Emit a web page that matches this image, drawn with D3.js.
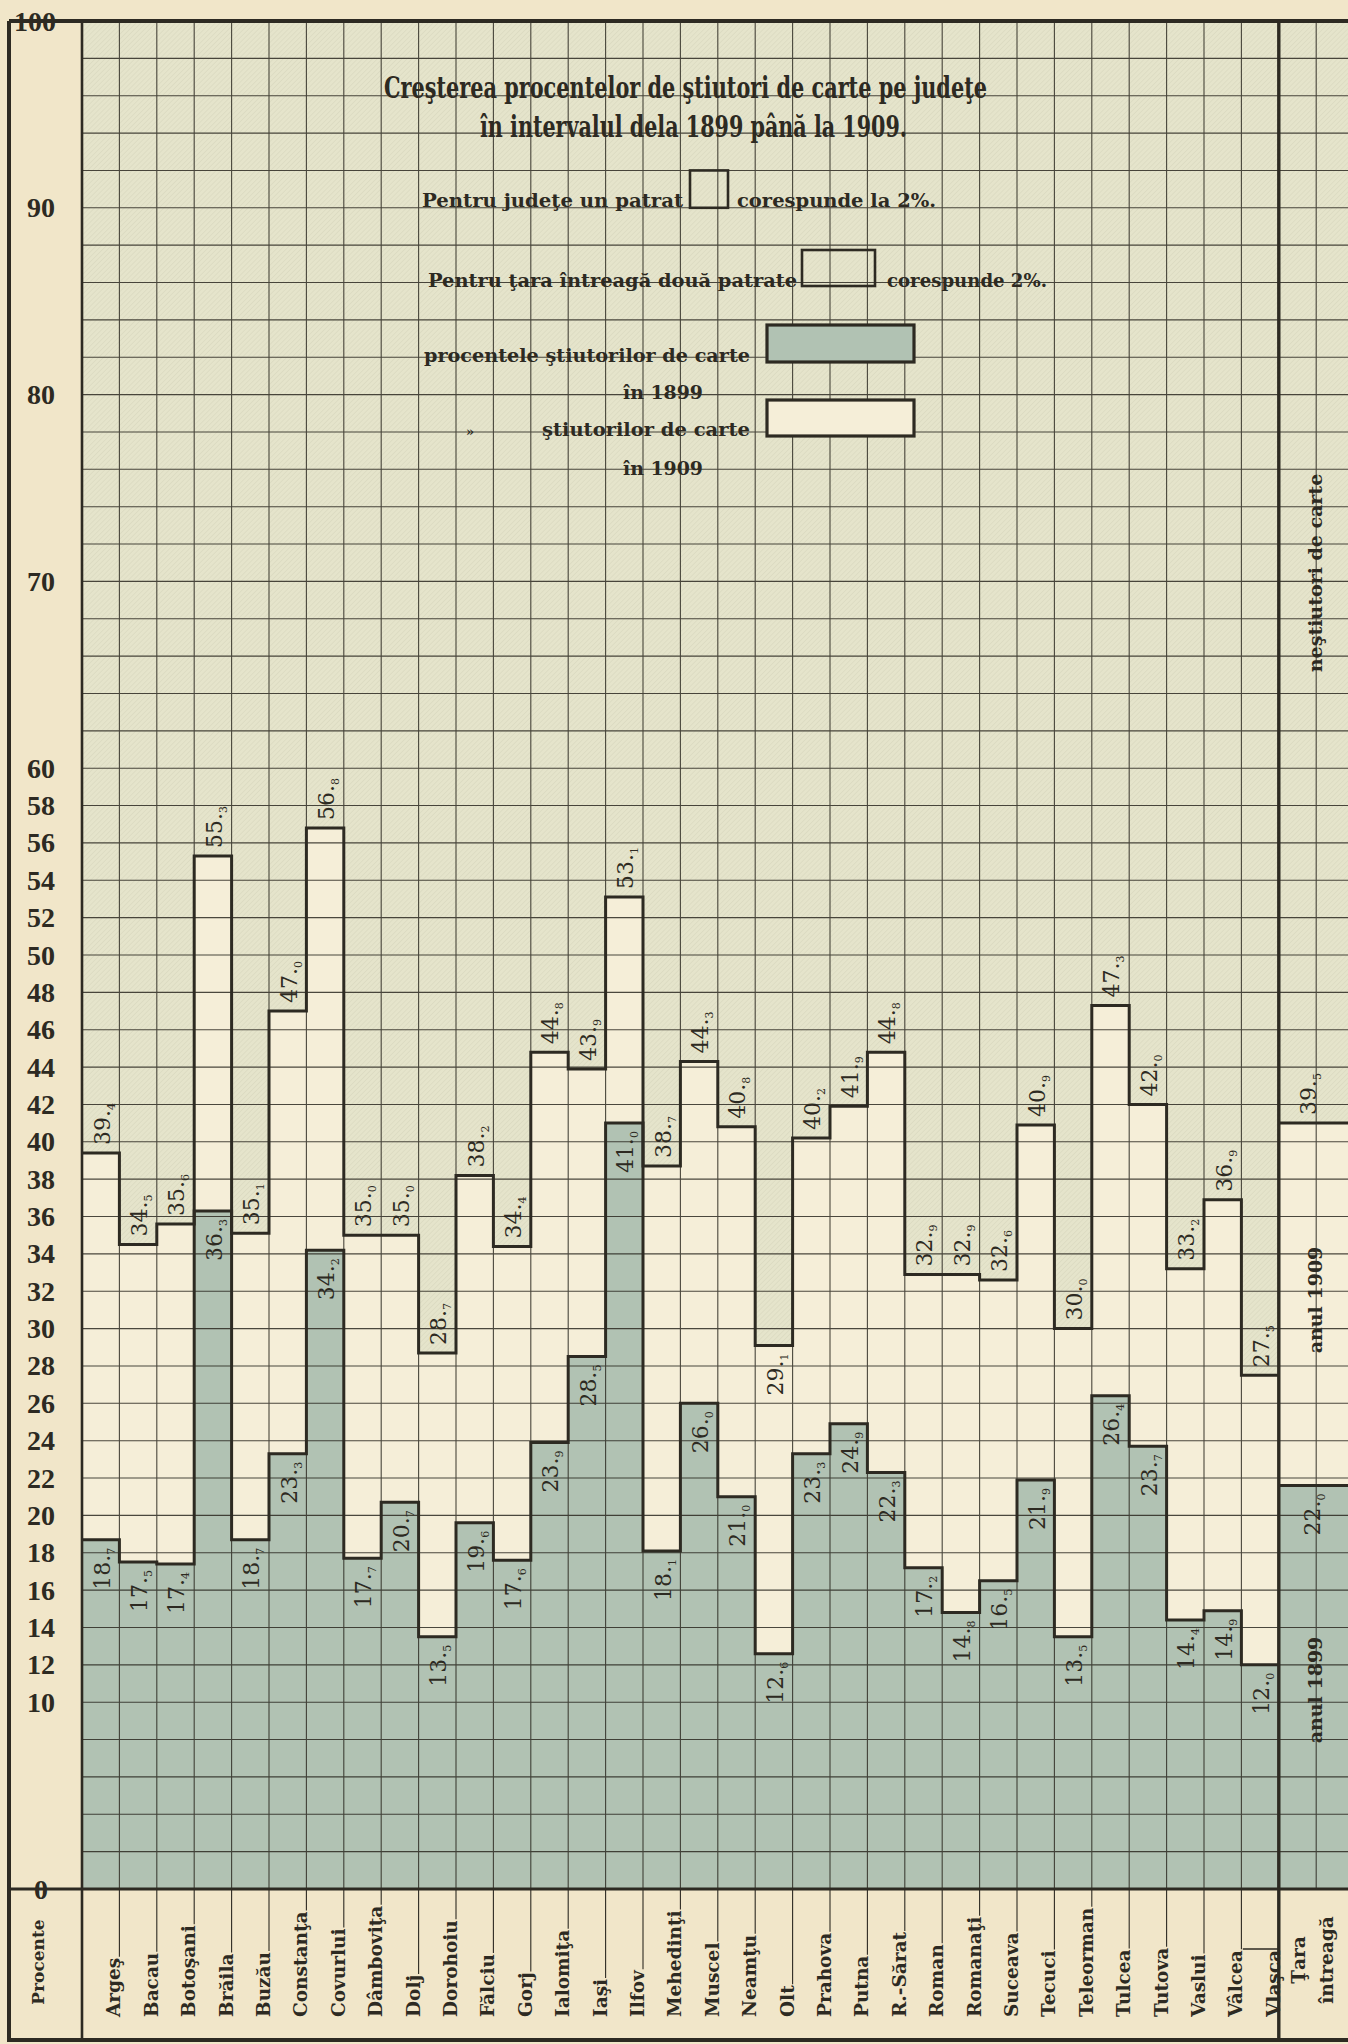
<!DOCTYPE html>
<html><head><meta charset="utf-8">
<script src="https://cdn.jsdelivr.net/npm/d3@7/dist/d3.min.js"></script>
<style>
html,body{margin:0;padding:0;background:#f1e6c9;}
svg{display:block;}
</style></head><body>
<svg id="chart" width="1348" height="2044"></svg>
<script>
// ---------------- DATA ----------------
const counties = ["Argeş","Bacau","Botoşani","Brăila","Buzău","Constanţa","Covurlui","Dâmboviţa","Dolj","Dorohoiu","Fălciu","Gorj","Ialomiţa","Iaşi","Ilfov","Mehedinţi","Muscel","Neamţu","Olt","Prahova","Putna","R.-Sărat","Roman","Romanaţi","Suceava","Tecuci","Teleorman","Tulcea","Tutova","Vaslui","Vâlcea","Vlaşca"];
const literate1899 = [18.7,17.5,17.4,36.3,18.7,23.3,34.2,17.7,20.7,13.5,19.6,17.6,23.9,28.5,41.0,18.1,26.0,21.0,12.6,23.3,24.9,22.3,17.2,14.8,16.5,21.9,13.5,26.4,23.7,14.4,14.9,12.0];
const literate1909 = [39.4,34.5,35.6,55.3,35.1,47.0,56.8,35.0,35.0,28.7,38.2,34.4,44.8,43.9,53.1,38.7,44.3,40.8,29.1,40.2,41.9,44.8,32.9,32.9,32.6,40.9,30.0,47.3,42.0,33.2,36.9,27.5];
const countryName = ["Ţara","întreagă"];
const countryPrinted = [22.0, 39.5];     // printed values (1899, 1909)
const countryDrawn = [21.6, 41.0];       // heights as drawn in the plate
const labelsBelow1909 = ["Olt"];
const yTicks = [0,10,12,14,16,18,20,22,24,26,28,30,32,34,36,38,40,42,44,46,48,50,52,54,56,58,60,70,80,90,100];
const titleLines = ["Creşterea procentelor de ştiutori de carte pe judeţe","în intervalul dela 1899 până la 1909."];

// ---------------- STYLE ----------------
const ink = "#2d2a22", cream = "#f5eed8", teal = "#b1c2b3", hatchBase = "#e5e4cb", paper = "#f1e6c9";
const serif = "'DejaVu Serif', serif";

const W = 1348, H = 2044;
const svg = d3.select("#chart");
const sq = 37.4;
const x = d3.scaleLinear().domain([0, 34]).range([82, 82 + 34 * sq]);
const y = d3.scaleLinear().domain([0, 100]).range([1889, 21]);
const nC = counties.length;
const bottomY = 2040, labelBase = 2017, leftX = 9;

// defs: hatch
const defs = svg.append("defs");
const pat = defs.append("pattern").attr("id","hatch").attr("patternUnits","userSpaceOnUse")
  .attr("width",3.5).attr("height",3.5).attr("patternTransform","rotate(45)");
pat.append("rect").attr("width",3.5).attr("height",3.5).attr("fill",hatchBase);
pat.append("line").attr("x1",0).attr("y1",0).attr("x2",0).attr("y2",3.5).attr("stroke","#d4d3b9").attr("stroke-width",0.9);

svg.append("rect").attr("width",W).attr("height",H).attr("fill",paper);
svg.append("rect").attr("x",x(0)).attr("y",y(100)).attr("width",W-x(0)).attr("height",y(0)-y(100)).attr("fill","url(#hatch)");

// literate areas
const g = svg.append("g");
g.selectAll("rect.b09").data(literate1909).join("rect").attr("class","b09")
  .attr("x",(d,i)=>x(i)).attr("width",(d,i)=>x(i+1)-x(i)+0.5)
  .attr("y",d=>y(d)).attr("height",d=>y(0)-y(d)).attr("fill",cream);
g.selectAll("rect.b99").data(literate1899).join("rect").attr("class","b99")
  .attr("x",(d,i)=>x(i)).attr("width",(d,i)=>x(i+1)-x(i)+0.5)
  .attr("y",d=>y(d)).attr("height",d=>y(0)-y(d)).attr("fill",teal);
g.append("rect").attr("x",x(nC)).attr("width",x(nC+2)-x(nC)).attr("y",y(countryDrawn[1]))
  .attr("height",y(0)-y(countryDrawn[1])).attr("fill",cream);
g.append("rect").attr("x",x(nC)).attr("width",x(nC+2)-x(nC)).attr("y",y(countryDrawn[0]))
  .attr("height",y(0)-y(countryDrawn[0])).attr("fill",teal);

// grid
const grid = svg.append("g").attr("stroke",ink).attr("stroke-width",1.1).attr("opacity",0.85);
grid.selectAll("line.v").data(d3.range(1,35).filter(i=>i!==nC)).join("line")
  .attr("x1",d=>x(d)).attr("x2",d=>x(d)).attr("y1",y(100)).attr("y2",y(0));
grid.selectAll("line.h").data(d3.range(2,100,2)).join("line")
  .attr("x1",x(0)).attr("x2",W).attr("y1",d=>y(d)).attr("y2",d=>y(d));

// step outlines
const step = d3.line().x(d=>x(d[0])).y(d=>y(d[1])).curve(d3.curveStepAfter);
[literate1909, literate1899].forEach(arr=>{
  const pts = arr.map((v,i)=>[i,v]).concat([[nC, arr[nC-1]]]);
  svg.append("path").attr("d",step(pts)).attr("fill","none").attr("stroke",ink).attr("stroke-width",3);
});
countryDrawn.forEach(v=>{
  svg.append("path").attr("d",step([[nC,v],[nC+2,v]])).attr("fill","none").attr("stroke",ink).attr("stroke-width",3);
});

// frame lines
const frame = svg.append("g").attr("stroke",ink).attr("fill","none");
frame.append("line").attr("x1",leftX).attr("x2",W).attr("y1",y(100)).attr("y2",y(100)).attr("stroke-width",4);
frame.append("line").attr("x1",leftX).attr("x2",leftX).attr("y1",y(100)).attr("y2",bottomY+2).attr("stroke-width",4);
frame.append("line").attr("x1",x(0)).attr("x2",x(0)).attr("y1",y(100)).attr("y2",bottomY).attr("stroke-width",2.6);
frame.append("line").attr("x1",leftX).attr("x2",W).attr("y1",y(0)).attr("y2",y(0)).attr("stroke-width",3.2);
frame.append("line").attr("x1",x(nC)).attr("x2",x(nC)).attr("y1",y(100)).attr("y2",bottomY).attr("stroke-width",3.4);
frame.append("line").attr("x1",leftX).attr("x2",W).attr("y1",bottomY).attr("y2",bottomY).attr("stroke-width",4);

// y tick labels
svg.append("g").selectAll("text").data(yTicks).join("text")
  .attr("x",d=>d===100?35:41).attr("y",d=>y(d)).attr("dy","0.34em")
  .attr("text-anchor","middle").attr("font-family","'Liberation Serif', serif")
  .attr("font-weight","bold").attr("font-size",28).attr("fill",ink).text(d=>d);

// value labels
function valueLabel(parent, cx, yPos, value, anchor){
  const s = d3.format(".1f")(value).split(".");
  const t = parent.append("text")
    .attr("transform",`translate(${cx},${yPos}) rotate(-90)`)
    .attr("text-anchor",anchor).attr("dy","0.36em")
    .attr("font-family",serif).attr("font-size",22).attr("fill",ink);
  t.append("tspan").text(s[0]+".");
  t.append("tspan").attr("font-size",11).attr("dy",5).text(s[1]);
}
const vl = svg.append("g");
literate1909.forEach((v,i)=>{
  const cx = (x(i)+x(i+1))/2 + 1;
  if (labelsBelow1909.includes(counties[i])) valueLabel(vl, cx, y(v)+8, v, "end");
  else valueLabel(vl, cx, y(v)-8, v, "start");
});
literate1899.forEach((v,i)=>{
  const cx = (x(i)+x(i+1))/2 + 1;
  valueLabel(vl, cx, y(v)+8, v, "end");
});
const ccx = (x(nC)+x(nC+2))/2 - 8;
valueLabel(vl, ccx, y(countryDrawn[1])-8, countryPrinted[1], "start");
valueLabel(vl, ccx+4, y(countryDrawn[0])+8, countryPrinted[0], "end");

// county labels + leaders
const cl = svg.append("g");
counties.forEach((c,i)=>{
  const bx = x(i+1);
  const t = cl.append("text").attr("transform",`translate(${bx+1},${labelBase}) rotate(-90)`)
    .attr("font-family",serif).attr("font-weight","bold").attr("font-size",18.5).attr("fill",ink).text(c);
  const len = t.node().getComputedTextLength();
  if (i < nC-1) {
    cl.append("line").attr("x1",bx).attr("x2",bx).attr("y1",y(0)).attr("y2",labelBase-len-1)
      .attr("stroke",ink).attr("stroke-width",1.1);
  } else {
    cl.append("line").attr("x1",bx-36).attr("x2",bx).attr("y1",labelBase-len-1).attr("y2",labelBase-len-1)
      .attr("stroke",ink).attr("stroke-width",1.6);
  }
});
countryName.forEach((c,k)=>{
  cl.append("text").attr("transform",`translate(${x(nC)+26+k*28},1960) rotate(-90)`)
    .attr("text-anchor","middle").attr("font-family",serif).attr("font-weight","bold")
    .attr("font-size",18.5).attr("fill",ink).text(c);
});
cl.append("text").attr("transform",`translate(44,1962) rotate(-90)`)
  .attr("text-anchor","middle").attr("font-family",serif).attr("font-weight","bold")
  .attr("font-size",17).attr("fill",ink).text("Procente");

// right column annotations
const rc = (x(nC)+x(nC+2))/2 + 6;
[["neştiutori de carte",573],["anul 1909",1300],["anul 1899",1690]].forEach(([t,cy])=>{
  svg.append("text").attr("transform",`translate(${rc},${cy}) rotate(-90)`)
    .attr("text-anchor","middle").attr("font-family",serif).attr("font-weight","bold")
    .attr("font-size",19).attr("fill",ink).text(t);
});

// title
const ttl = svg.append("g").attr("font-family",serif).attr("font-weight","bold").attr("fill",ink);
ttl.append("text").attr("x",384).attr("y",98).attr("font-size",30).attr("textLength",603)
  .attr("lengthAdjust","spacingAndGlyphs").text(titleLines[0]);
ttl.append("text").attr("x",480).attr("y",137).attr("font-size",30).attr("textLength",427)
  .attr("lengthAdjust","spacingAndGlyphs").text(titleLines[1]);

// legend
const lg = svg.append("g").attr("font-family",serif).attr("font-weight","bold").attr("fill",ink).attr("font-size",18);
function lt(txt,x0,yb,len){ lg.append("text").attr("x",x0).attr("y",yb).attr("textLength",len).attr("lengthAdjust","spacingAndGlyphs").text(txt); }
lt("Pentru judeţe un patrat",422,207,261);
lt("corespunde la 2%.",737,207,199);
lt("Pentru ţara întreagă două patrate",428,287,369);
lt("corespunde 2%.",887,287,160);
lt("procentele ştiutorilor de carte",424,362,326);
lt("în 1899",623,399,80);
lt("ştiutorilor de carte",542,436,208);
lt("în 1909",623,475,80);
lg.append("text").attr("x",466).attr("y",436).attr("font-size",13).text("»");
const boxes = [
  {x0:690,x1:728,y0:y(92),y1:y(90),fill:"none",w:2.6},
  {x0:802,x1:875,y0:250,y1:286,fill:"none",w:2.6},
  {x0:767,x1:914,y0:325,y1:362,fill:teal,w:3.2},
  {x0:767,x1:914,y0:400,y1:436,fill:cream,w:3.2}
];
svg.append("g").selectAll("rect").data(boxes).join("rect")
  .attr("x",d=>d.x0).attr("y",d=>d.y0).attr("width",d=>d.x1-d.x0).attr("height",d=>d.y1-d.y0)
  .attr("fill",d=>d.fill).attr("stroke",ink).attr("stroke-width",d=>d.w);
</script>
</body></html>
